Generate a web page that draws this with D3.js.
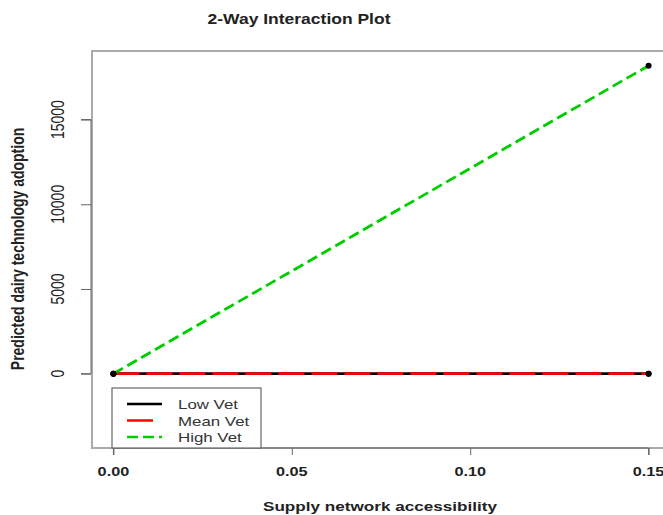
<!DOCTYPE html>
<html><head><meta charset="utf-8">
<script src="https://cdn.jsdelivr.net/npm/d3@7"></script>
<style>body{margin:0;background:#fff;} svg{display:block;}</style>
</head><body>
<svg id="c" width="663" height="515"></svg>
<script>
const xValues = [0.00, 0.15];
const seriesNames = ["Low Vet", "Mean Vet", "High Vet"];
const lowVet = [0, 0];
const meanVet = [0, 0];
const highVet = [0, 18180];
const xTicks = [0.00, 0.05, 0.10, 0.15];
const xTickLabels = ["0.00", "0.05", "0.10", "0.15"];
const yTicks = [0, 5000, 10000, 15000];
const yLim = [-3520, 18180];
const colors = ["#000000", "#ff0000", "#00cd00"];

const svg = d3.select("#c");
const font = "Liberation Sans, Arial, Helvetica, sans-serif";
const SX = 1.25;

const xPad = (xValues[1]-xValues[0])*0.04;
const yPad = (yLim[1]-yLim[0])*0.04;
const x = d3.scaleLinear().domain([xValues[0]-xPad, xValues[1]+xPad]).range([92, 670]);
const y = d3.scaleLinear().domain([yLim[0]-yPad, yLim[1]+yPad]).range([448, 51]);

function txt(s, px, py, opts) {
  return svg.append("text")
    .attr("transform", `translate(${px},${py}) scale(${SX},1)` + (opts.rot ? ` rotate(${opts.rot})` : ""))
    .attr("text-anchor", opts.anchor || "middle")
    .attr("font-family", font)
    .attr("font-size", opts.size)
    .attr("font-weight", opts.bold ? "bold" : "normal")
    .attr("fill", opts.fill || "#222")
    .text(s);
}

// plot box
svg.append("rect").attr("x", x.range()[0]).attr("y", 51)
  .attr("width", x.range()[1]-x.range()[0]).attr("height", 448-51)
  .attr("fill", "none").attr("stroke", "#aaa").attr("stroke-width", 2);

// y axis
const yAxisG = svg.append("g").attr("transform", "translate(91,0)");
yAxisG.call(d3.axisLeft(y).tickValues(yTicks).tickSize(10).tickFormat(""));
yAxisG.select(".domain").attr("stroke", "#666").attr("d", `M-10,${y(yTicks[0])}H0V${y(yTicks[yTicks.length-1])}H-10`);
yAxisG.selectAll(".tick line").attr("stroke", "#666");
yTicks.forEach(v => txt(String(v), 64, y(v), {size: 14, rot: -90}));

// x axis
const xAxisG = svg.append("g").attr("transform", "translate(0,448)");
xAxisG.call(d3.axisBottom(x).tickValues(xTicks).tickSize(7).tickFormat(""));
xAxisG.select(".domain").attr("stroke", "#666").attr("d", `M${x(xTicks[0])},7V0H${x(xTicks[xTicks.length-1])}V7`);
xAxisG.selectAll(".tick line").attr("stroke", "#666");
xTicks.forEach((v,i) => txt(xTickLabels[i], x(v), 476, {size: 13, bold: true}));

// titles
txt("2-Way Interaction Plot", 299, 24, {size: 14, bold: true});
txt("Supply network accessibility", 380, 511, {size: 13.7, bold: true});
txt("Predicted dairy technology adoption", 24, 249, {size: 14, bold: true, rot: -90});

// lines
const line = d3.line().x((d,i) => x(xValues[i])).y(d => y(d));
const series = [lowVet, meanVet, highVet];
const dashes = [null, "26,7", "11,5"];
series.forEach((s,i) => {
  svg.append("path").datum(s).attr("d", line)
    .attr("fill", "none").attr("stroke", colors[i]).attr("stroke-width", 2.8)
    .attr("stroke-dasharray", dashes[i]);
});
// points
series.forEach(s => {
  s.forEach((v,j) => {
    svg.append("circle").attr("cx", x(xValues[j])).attr("cy", y(v)).attr("r", 3).attr("fill", "#000");
  });
});

// legend
const lg = svg.append("g");
lg.append("rect").attr("x", 112).attr("y", 388).attr("width", 149).attr("height", 60)
  .attr("fill", "#fff").attr("stroke", "#666").attr("stroke-width", 1.2);
const legendDash = [null, "26,20", "11,5"];
seriesNames.forEach((n,i) => {
  const ly = 404 + i*16.5;
  lg.append("line").attr("x1", 127).attr("x2", 162).attr("y1", ly).attr("y2", ly)
    .attr("stroke", colors[i]).attr("stroke-width", 2.5)
    .attr("stroke-dasharray", legendDash[i]);
  txt(n, 178, ly + 5, {size: 13.5, anchor: "start", fill: "#333"});
});
</script>
</body></html>
